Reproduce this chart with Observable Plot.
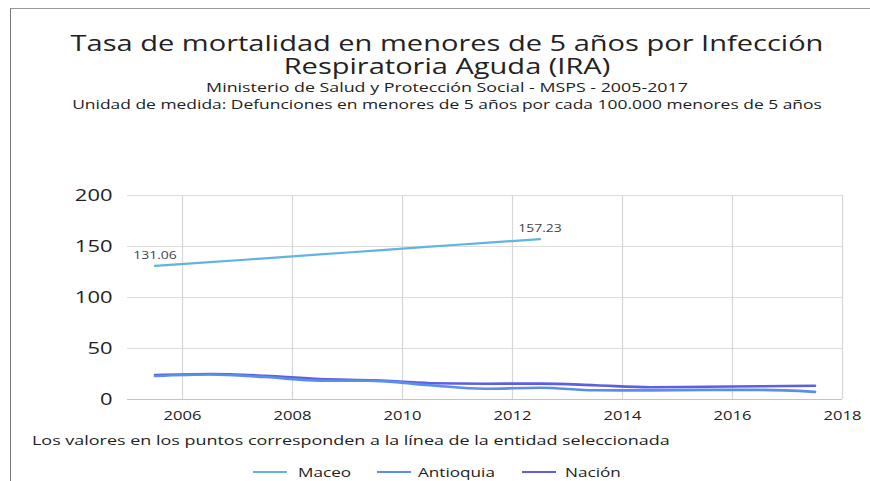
<!DOCTYPE html>
<html>
<head>
<meta charset="utf-8">
<script src="https://cdn.jsdelivr.net/npm/d3@7"></script>
<script src="https://cdn.jsdelivr.net/npm/@observablehq/plot@0.6"></script>
<style>
  html, body { margin: 0; padding: 0; background: #fff; }
  body { width: 870px; height: 481px; position: relative; overflow: hidden; font-family: "Open Sans", "Noto Sans", sans-serif; color: #222; }
  #frame { position: absolute; left: 10px; top: 8px; width: 870px; height: 480px; border-left: 1.5px solid #777; border-top: 1.5px solid #999; }
  .t { position: absolute; left: 0; width: 894px; text-align: center; white-space: nowrap; transform-origin: 447px 50%; }
  #title { top: 30.5px; font-size: 21.5px; line-height: 23px; transform: scaleX(1.35); }
  #sub1 { top: 80px; font-size: 13px; line-height: 15px; transform: scaleX(1.37); }
  #sub2 { top: 97px; font-size: 13px; line-height: 15px; transform: scaleX(1.34); }
  #chart { position: absolute; left: 0; top: 180px; }
  #note { position: absolute; left: 32px; top: 432px; font-size: 13px; line-height: 16px; white-space: nowrap; transform-origin: 0 50%; transform: scaleX(1.38); }
  #legend { position: absolute; left: 0; top: 463px; width: 870px; height: 18px; }
  .sw { position: absolute; top: 8px; width: 34px; height: 2px; }
  .lt { position: absolute; top: 0; font-size: 13.5px; line-height: 18px; white-space: nowrap; transform-origin: 0 50%; transform: scaleX(1.27); }
</style>
</head>
<body>
<div id="frame"></div>
<div class="t" id="title">Tasa de mortalidad en menores de 5 años por Infección<br>Respiratoria Aguda (IRA)</div>
<div class="t" id="sub1">Ministerio de Salud y Protección Social - MSPS - 2005-2017</div>
<div class="t" id="sub2">Unidad de medida: Defunciones en menores de 5 años por cada 100.000 menores de 5 años</div>
<div id="chart"></div>
<div id="note">Los valores en los puntos corresponden a la línea de la entidad seleccionada</div>
<div id="legend"></div>
<script>
// Years (plotted at mid-year positions)
const years = [2005, 2006, 2007, 2008, 2009, 2010, 2011, 2012, 2013, 2014, 2015, 2016, 2017];
const maceoYears = [2005, 2006, 2007, 2008, 2009, 2010, 2011, 2012];
const maceo = [131.06, 134.6, 138.4, 142.2, 146.0, 149.8, 153.6, 157.23];
const antioquia = [23.0, 24.5, 22.0, 18.5, 18.3, 14.0, 10.5, 11.5, 9.0, 8.9, 9.4, 9.4, 7.5];
const nacion = [24.0, 25.0, 23.2, 20.0, 18.8, 16.0, 15.5, 15.6, 14.0, 12.0, 12.5, 13.0, 13.5];
const seriesNames = ["Maceo", "Antioquia", "Nación"];
const seriesColors = ["#62b4e0", "#5b8ded", "#5c5fe2"];
const yTicks = [0, 50, 100, 150, 200];
const xTicks = [2006, 2008, 2010, 2012, 2014, 2016, 2018];

const rows = [];
maceoYears.forEach((y, i) => rows.push({series: "Maceo", year: y + 0.5, value: maceo[i]}));
years.forEach((y, i) => rows.push({series: "Antioquia", year: y + 0.5, value: antioquia[i]}));
years.forEach((y, i) => rows.push({series: "Nación", year: y + 0.5, value: nacion[i]}));

const maceoRows = rows.filter(d => d.series === "Maceo");
const labelRows = [maceoRows[0], maceoRows[maceoRows.length - 1]];

const chart = Plot.plot({
  width: 870,
  height: 250,
  marginLeft: 127,
  marginRight: 28,
  marginTop: 15,
  marginBottom: 31,
  style: {fontFamily: "'Open Sans', 'Noto Sans', sans-serif", background: "transparent"},
  x: {domain: [2005, 2018]},
  y: {domain: [0, 200]},
  color: {domain: seriesNames, range: seriesColors},
  marks: [
    Plot.gridY(yTicks, {stroke: "#dcdcdc", strokeOpacity: 1, strokeWidth: 1}),
    Plot.gridX(xTicks, {stroke: "#d6d6d6", strokeOpacity: 1, strokeWidth: 1.2}),
    Plot.ruleY([0], {stroke: "#c4c4c4", strokeWidth: 1.2}),
    Plot.axisY(yTicks, {tickSize: 0, tickPadding: 15, fontSize: 16.5, label: null, fill: "#222"}),
    Plot.axisX(xTicks, {tickSize: 0, tickPadding: 12, fontSize: 12.5, label: null, fill: "#222", tickFormat: d => String(d)}),
    Plot.line(rows.filter(d => d.series === "Nación"), {x: "year", y: "value", stroke: "series", strokeWidth: 2.6, curve: "monotone-x"}),
    Plot.line(rows.filter(d => d.series === "Antioquia"), {x: "year", y: "value", stroke: "series", strokeWidth: 2.6, curve: "monotone-x"}),
    Plot.line(maceoRows, {x: "year", y: "value", stroke: "series", strokeWidth: 2.2, curve: "monotone-x"}),
    Plot.text(labelRows, {x: "year", y: "value", text: d => d.value.toFixed(2), dy: -10, fontSize: 10.5, fill: "#444"})
  ]
});
document.getElementById("chart").appendChild(chart);

// widen the glyphs horizontally (reference text is horizontally stretched), around each text's own anchor
const stretch = 1.33;
chart.querySelectorAll("text").forEach(t => {
  const tr = t.getAttribute("transform");
  if (tr && tr.includes("translate")) {
    t.setAttribute("transform", tr + ` scale(${stretch},1)`);
  } else {
    const x = +(t.getAttribute("x") || 0), y = +(t.getAttribute("y") || 0);
    t.setAttribute("x", 0); t.setAttribute("y", 0);
    t.setAttribute("transform", (tr ? tr + " " : "") + `translate(${x},${y}) scale(${stretch},1)`);
  }
});

// legend
const legend = document.getElementById("legend");
const swX = [253, 377, 522];
const txX = [298, 418, 565];
seriesNames.forEach((name, i) => {
  const sw = document.createElement("div");
  sw.className = "sw";
  sw.style.left = swX[i] + "px";
  sw.style.background = seriesColors[i];
  legend.appendChild(sw);
  const tx = document.createElement("div");
  tx.className = "lt";
  tx.style.left = txX[i] + "px";
  tx.textContent = name;
  legend.appendChild(tx);
});
</script>
</body>
</html>
